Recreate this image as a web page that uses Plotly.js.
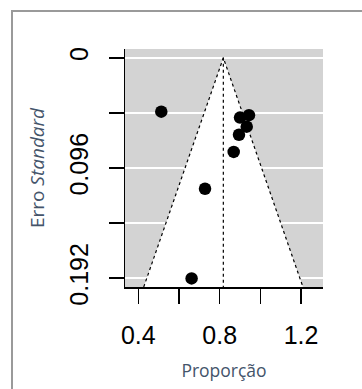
<!DOCTYPE html>
<html>
<head>
<meta charset="utf-8">
<script src="https://cdn.plot.ly/plotly-3.0.1.min.js"></script>
<style>
html,body{margin:0;padding:0;background:#fff;}
#wrap{position:relative;width:362px;height:389px;}
#chart{position:absolute;left:0;top:0;width:362px;height:389px;}
#frame{position:absolute;left:11px;top:10px;width:360px;height:390px;border-top:2px solid #9a9a9a;border-left:2px solid #9a9a9a;pointer-events:none;}
</style>
</head>
<body>
<div id="wrap"><div id="chart"></div><div id="frame"></div></div>
<script>
// Study data (proportion, standard error)
const proportions = [0.513, 0.900, 0.944, 0.933, 0.895, 0.869, 0.728, 0.662];
const standardErrors = [0.0469, 0.0521, 0.0500, 0.0600, 0.0670, 0.0820, 0.1141, 0.1922];
const pooledEstimate = 0.818;
const yTickValues = [0, 0.048, 0.096, 0.144, 0.192];
const yTickLabels = ['0', '', '0.096', '', '0.192'];
const xTickValues = [0.4, 0.6, 0.8, 1.0, 1.2];
const xTickLabels = ['0.4', '', '0.8', '', '1.2'];

const maxSE = 0.192;
const yRange = [maxSE * 1.04, -maxSE * 0.04];
const xRange = [0.3346, 1.308];
const seBottom = yRange[0];
const z = 1.96;

const funnelX = [pooledEstimate - z * seBottom, pooledEstimate, pooledEstimate + z * seBottom];
const funnelY = [seBottom, 0, seBottom];

const traces = [
  {x: funnelX, y: funnelY, type: 'scatter', mode: 'lines', fill: 'toself', fillcolor: '#ffffff',
   line: {color: '#000000', width: 1.2, dash: 'dot'}, hoverinfo: 'skip', showlegend: false},
  {x: [pooledEstimate, pooledEstimate], y: [0, seBottom], type: 'scatter', mode: 'lines',
   line: {color: '#000000', width: 1.2, dash: 'dot'}, hoverinfo: 'skip', showlegend: false},
  {x: proportions, y: standardErrors, type: 'scatter', mode: 'markers',
   marker: {color: '#000000', size: 12.5}, showlegend: false}
];

const tickFont = {family: 'Liberation Sans, Arial, sans-serif', size: 25, color: '#000000'};

const layout = {
  width: 362, height: 389,
  margin: {l: 125, r: 39, t: 49, b: 102, pad: 0},
  paper_bgcolor: '#ffffff',
  plot_bgcolor: '#D3D3D3',
  showlegend: false,
  xaxis: {
    range: xRange, tickmode: 'array', tickvals: xTickValues, ticktext: xTickLabels,
    ticks: 'outside', ticklen: 15, tickwidth: 1.5, tickcolor: '#000',
    showgrid: false, zeroline: false, showline: true, linecolor: '#000', linewidth: 1.5,
    tickfont: tickFont, ticklabelstandoff: 10,
    title: {text: 'Proporção', font: {family: 'Open Sans, sans-serif', size: 17.5, color: '#44546A'}, standoff: 17}
  },
  yaxis: {
    range: yRange, tickmode: 'array', tickvals: yTickValues, ticktext: yTickLabels,
    ticks: 'outside', ticklen: 15, tickwidth: 1.5, tickcolor: '#000', tickangle: -90,
    showgrid: true, gridcolor: '#ffffff', gridwidth: 1.5,
    zeroline: false, showline: true, linecolor: '#000', linewidth: 1.5,
    tickfont: tickFont, ticklabelstandoff: 11,
    title: {text: 'Erro <i>Standard</i>', font: {family: 'Open Sans, sans-serif', size: 19, color: '#44546A'}, standoff: 15}
  }
};

Plotly.newPlot('chart', traces, layout, {displayModeBar: false, staticPlot: true});
</script>
</body>
</html>
